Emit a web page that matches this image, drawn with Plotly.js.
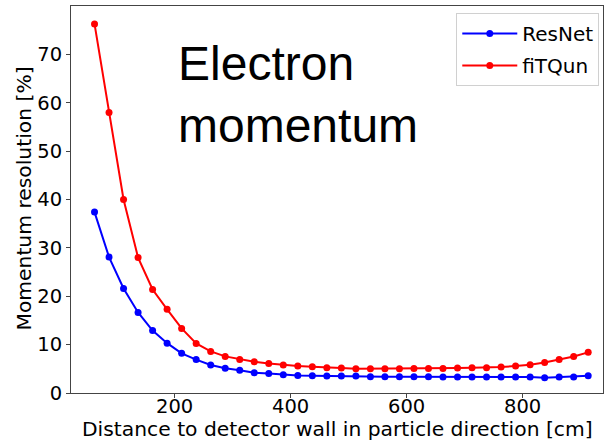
<!DOCTYPE html>
<html>
<head>
<meta charset="utf-8">
<script src="https://cdn.plot.ly/plotly-3.0.1.min.js"></script>
<style>html,body{margin:0;padding:0;background:#fff;}#chart{width:605px;height:441px;}</style>
</head>
<body>
<div id="chart"></div>
<script>
// Distance to detector wall [cm]
const distance = [62.5, 87.5, 112.5, 137.5, 162.5, 187.5, 212.5, 237.5, 262.5, 287.5,
  312.5, 337.5, 362.5, 387.5, 412.5, 437.5, 462.5, 487.5, 512.5, 537.5,
  562.5, 587.5, 612.5, 637.5, 662.5, 687.5, 712.5, 737.5, 762.5, 787.5,
  812.5, 837.5, 862.5, 887.5, 912.5];
// Momentum resolution [%]
const resnet = [37.4, 28.1, 21.6, 16.65, 12.9, 10.3, 8.2, 6.9, 5.8, 5.1,
  4.7, 4.2, 4.05, 3.78, 3.64, 3.57, 3.5, 3.5, 3.5, 3.37,
  3.37, 3.37, 3.37, 3.37, 3.3, 3.3, 3.3, 3.3, 3.3, 3.3,
  3.3, 3.16, 3.3, 3.3, 3.57];
const fitqun = [76.3, 58.0, 40.0, 28.0, 21.4, 17.3, 13.35, 10.25, 8.6, 7.57,
  6.95, 6.47, 6.1, 5.78, 5.57, 5.43, 5.22, 5.15, 5.02, 5.02,
  5.02, 5.02, 5.08, 5.08, 5.08, 5.15, 5.22, 5.22, 5.36, 5.57,
  5.84, 6.32, 6.94, 7.56, 8.4];
const xTicks = [200, 400, 600, 800];
const yTicks = [0, 10, 20, 30, 40, 50, 60, 70];
const xTitle = 'Distance to detector wall in particle direction [cm]';
const yTitle = 'Momentum resolution [%]';

const font = 'DejaVu Sans, sans-serif';
const tickSize = 19.5;
const titleSize = 20.3;
const traces = [
  {x: distance, y: resnet, name: 'ResNet', mode: 'lines+markers', type: 'scatter', legendgroup: 'a',
   line: {color: '#0000ff', width: 2}, marker: {color: '#0000ff', size: 7}},
  {x: distance, y: fitqun, name: 'fiTQun', mode: 'lines+markers', type: 'scatter', legendgroup: 'b',
   line: {color: '#ff0000', width: 2}, marker: {color: '#ff0000', size: 7}}
];
// x tick labels placed on the x scale (closer to the axis than Plotly's default)
const xTickLabels = xTicks.map(v => ({
  text: String(v), xref: 'x', yref: 'paper', x: v, y: 0,
  xanchor: 'center', yanchor: 'top', showarrow: false,
  font: {family: font, size: tickSize, color: '#000'}
}));
const layout = {
  width: 605, height: 441,
  margin: {l: 71, r: 2, t: 6, b: 48},
  paper_bgcolor: '#fff', plot_bgcolor: '#fff',
  font: {family: font, size: 20, color: '#000'},
  showlegend: true,
  legend: {x: 0.993, y: 0.982, xanchor: 'right', yanchor: 'top',
    bgcolor: 'rgba(255,255,255,0.8)', bordercolor: '#d0d0d0', borderwidth: 1,
    font: {family: font, size: 20, color: '#000'}, itemwidth: 55, tracegroupgap: 3},
  xaxis: {range: [22, 938], tickvals: xTicks, showticklabels: false,
    showgrid: false, zeroline: false, showline: true, linecolor: '#444', linewidth: 1,
    mirror: true, ticks: 'outside', ticklen: 4, tickcolor: '#444'},
  yaxis: {range: [0, 80], tickvals: yTicks, ticktext: yTicks.map(String),
    showgrid: false, zeroline: false, showline: true, linecolor: '#444', linewidth: 1,
    mirror: true, ticks: 'outside', ticklen: 4, tickcolor: '#444',
    tickfont: {family: font, size: tickSize, color: '#000'}},
  annotations: xTickLabels.concat([
    {text: 'Electron<br>momentum', xref: 'paper', yref: 'paper',
     x: 0.198, y: 0.925, xanchor: 'left', yanchor: 'top', align: 'left', showarrow: false,
     font: {family: 'Liberation Sans, Arial, sans-serif', size: 48, color: '#000'}},
    {text: xTitle, xref: 'paper', yref: 'paper', x: 0.5, y: -0.094,
     xanchor: 'center', yanchor: 'middle', showarrow: false,
     font: {family: font, size: titleSize, color: '#000'}},
    {text: yTitle, xref: 'paper', yref: 'paper', x: -0.0874, y: 0.501, textangle: -90,
     xanchor: 'center', yanchor: 'middle', showarrow: false,
     font: {family: font, size: titleSize, color: '#000'}}
  ])
};
Plotly.newPlot('chart', traces, layout, {displayModeBar: false, staticPlot: true});
</script>
</body>
</html>
